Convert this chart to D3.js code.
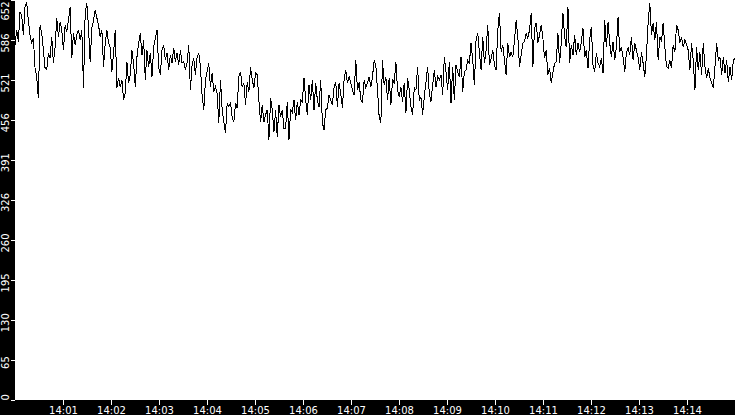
<!DOCTYPE html>
<html>
<head>
<meta charset="utf-8">
<script src="https://cdn.jsdelivr.net/npm/d3@7"></script>
<style>
  body { margin: 0; background: #000; }
  svg { display: block; font-family: "DejaVu Sans", sans-serif; }
</style>
</head>
<body>
<div id="chart"></div>
<script>
// time span of the series (one sample spread evenly between start and end)
const startTime = "14:00:00";
const endTime = "14:15:00";

// y axis: max of the scale and the (truncated) labels shown at tenths of it
const yMax = 652;
const yTickLabels = [0, 65, 130, 195, 260, 326, 391, 456, 521, 586, 652];

// x axis ticks, one per minute
const xTickLabels = ["14:01", "14:02", "14:03", "14:04", "14:05", "14:06", "14:07",
    "14:08", "14:09", "14:10", "14:11", "14:12", "14:13", "14:14"];

// values, left to right
const values = [
    579, 603, 584, 632, 628, 595, 641, 647, 619, 595, 582, 590, 541, 527, 492, 611, 598, 570,
    541, 538, 566, 557, 592, 549, 575, 623, 592, 616, 603, 570, 611, 600, 619, 641, 557, 598,
    579, 595, 603, 587, 603, 509, 631, 647, 608, 551, 606, 619, 636, 623, 611, 592, 603, 543,
    582, 603, 582, 575, 535, 566, 603, 509, 525, 510, 522, 489, 500, 551, 517, 530, 570, 549,
    510, 559, 582, 598, 562, 587, 522, 570, 543, 566, 527, 575, 590, 603, 543, 530, 570, 579,
    554, 566, 538, 562, 549, 574, 551, 566, 546, 570, 549, 551, 538, 549, 579, 505, 546, 557,
    530, 559, 566, 543, 497, 473, 522, 535, 549, 510, 533, 502, 510, 500, 452, 522, 473, 453,
    435, 484, 478, 484, 461, 453, 484, 476, 527, 535, 510, 517, 481, 518, 502, 543, 522, 509,
    533, 530, 489, 453, 481, 453, 465, 473, 424, 492, 473, 437, 473, 429, 481, 461, 473, 443,
    443, 486, 424, 473, 468, 489, 456, 486, 465, 489, 486, 525, 489, 465, 513, 489, 522, 473,
    517, 489, 478, 522, 452, 440, 473, 476, 497, 489, 481, 510, 518, 478, 517, 500, 476, 522,
    538, 517, 527, 517, 505, 497, 554, 505, 518, 489, 486, 522, 509, 517, 527, 510, 527, 554,
    546, 505, 461, 452, 554, 513, 527, 489, 525, 481, 522, 517, 551, 505, 494, 510, 486, 517,
    468, 525, 505, 478, 465, 509, 505, 543, 489, 494, 465, 494, 518, 543, 500, 486, 513, 538,
    510, 527, 522, 530, 497, 559, 535, 505, 551, 484, 543, 489, 546, 535, 527, 559, 502, 535,
    538, 554, 549, 582, 554, 513, 587, 598, 566, 538, 592, 549, 570, 611, 546, 557, 570, 546,
    538, 603, 631, 567, 579, 554, 530, 582, 559, 567, 559, 587, 619, 592, 543, 562, 582, 584,
    598, 590, 603, 631, 543, 606, 615, 582, 595, 611, 590, 557, 570, 530, 541, 517, 533, 549,
    551, 598, 549, 582, 631, 592, 575, 641, 549, 579, 562, 595, 562, 582, 567, 584, 606, 559,
    570, 541, 587, 608, 546, 535, 566, 549, 543, 557, 533, 619, 575, 616, 582, 559, 584, 554,
    575, 624, 567, 575, 559, 535, 566, 574, 562, 592, 554, 582, 570, 559, 538, 567, 549, 527,
    562, 615, 647, 595, 615, 587, 616, 554, 592, 584, 615, 575, 543, 541, 554, 541, 579, 567,
    611, 603, 582, 592, 575, 587, 579, 570, 538, 582, 554, 505, 575, 538, 567, 530, 582, 543,
    525, 541, 525, 517, 509, 543, 582, 554, 559, 530, 559, 533, 554, 518, 543, 522, 554, 557
];

const W = 735, H = 415;
const margin = { top: 0, right: 0, bottom: 15, left: 15 };
const width = W - margin.left - margin.right;
const height = H - margin.top - margin.bottom;

const parseTime = d3.timeParse("%H:%M:%S");
const parseMinute = d3.timeParse("%H:%M");
const t0 = parseTime(startTime), t1 = parseTime(endTime);
const step = (t1 - t0) / (values.length - 1);
const data = values.map((v, i) => ({ time: new Date(+t0 + i * step), value: v }));

const svg = d3.select("#chart")
    .append("svg")
    .attr("width", W)
    .attr("height", H);

svg.append("rect")
    .attr("width", W)
    .attr("height", H)
    .attr("fill", "#000");

const g = svg.append("g")
    .attr("transform", `translate(${margin.left},${margin.top})`);

g.append("rect")
    .attr("width", width)
    .attr("height", height)
    .attr("fill", "#fff");

const x = d3.scaleTime()
    .domain([t0, t1])
    .range([0, width]);

const y = d3.scaleLinear()
    .domain([0, yMax])
    .range([height, 0]);

const line = d3.line()
    .x(d => x(d.time))
    .y(d => y(d.value));

g.append("path")
    .datum(data)
    .attr("fill", "none")
    .attr("stroke", "#000")
    .attr("stroke-width", 1)
    .attr("shape-rendering", "crispEdges")
    .attr("d", line);

// x axis
const xAxis = g.append("g")
    .attr("transform", `translate(0,${height})`)
    .call(d3.axisBottom(x)
        .tickValues(xTickLabels.map(parseMinute))
        .tickFormat(d3.timeFormat("%H:%M"))
        .tickSize(5)
        .tickPadding(2));

xAxis.select(".domain").remove();
xAxis.selectAll("line").attr("stroke", "#fff").attr("shape-rendering", "crispEdges");
xAxis.selectAll("text")
    .attr("fill", "#fff")
    .style("font-size", "10px")
    .style("font-family", "'DejaVu Sans', sans-serif");

// y axis with labels turned on their side
const yAxis = g.append("g")
    .call(d3.axisLeft(y)
        .tickValues(yTickLabels)
        .tickFormat(d3.format("d"))
        .tickSize(4));

yAxis.select(".domain").remove();
yAxis.selectAll("line").attr("stroke", "#fff").attr("shape-rendering", "crispEdges");
yAxis.selectAll("text")
    .attr("fill", "#fff")
    .style("font-size", "10px")
    .style("font-family", "'DejaVu Sans', sans-serif")
    .attr("text-anchor", "middle")
    .attr("dy", 0)
    .attr("y", -5.7)
    .attr("transform", "rotate(-90)")
    .attr("x", function (d) {
        const half = this.getComputedTextLength() / 2;
        const ty = y(d);
        const cy = Math.max(half + 1, Math.min(height - half, ty + 2));
        return -(cy - ty);
    });
</script>
</body>
</html>
